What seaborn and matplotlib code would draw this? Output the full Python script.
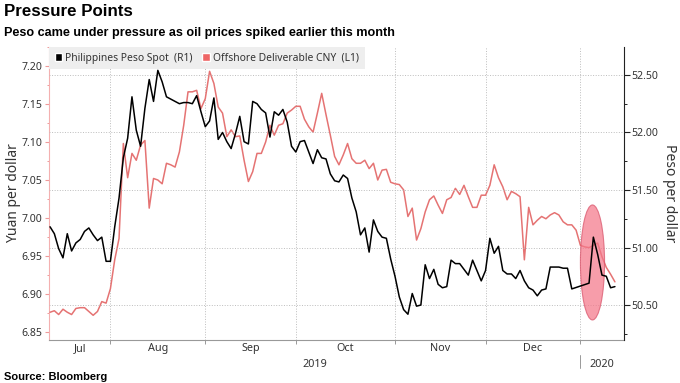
import matplotlib
matplotlib.use("Agg")
import matplotlib.pyplot as plt
import numpy as np
import pandas as pd
import seaborn as sns
from matplotlib.patches import Ellipse, Patch
from matplotlib.ticker import MultipleLocator, FormatStrFormatter

peso_color = "black"
cny_color = "#e57373"
text_color = "#333333"
grid_color = "#bdbdbd"
bold_family = ["Liberation Sans", "DejaVu Sans"]

# business days, Jul 12 2019 .. Jan 13 2020
start = "2019-07-12"
cny_dates = pd.bdate_range(start, "2020-01-13")
cny_values = [
    6.876, 6.878, 6.873, 6.880, 6.876, 6.873, 6.881, 6.882, 6.882, 6.877,
    6.872, 6.877, 6.890, 6.888, 6.907, 6.945, 6.973, 7.098, 7.053, 7.085,
    7.076, 7.096, 7.102, 7.013, 7.052, 7.050, 7.045, 7.072, 7.070, 7.067,
    7.087, 7.122, 7.166, 7.166, 7.168, 7.144, 7.157, 7.193, 7.177, 7.146,
    7.138, 7.107, 7.116, 7.107, 7.108, 7.076, 7.048, 7.061, 7.085, 7.085,
    7.100, 7.122, 7.109, 7.122, 7.124, 7.138, 7.142, 7.147, 7.147, 7.130,
    7.120, 7.113, 7.138, 7.164, 7.136, 7.109, 7.081, 7.070, 7.083, 7.098,
    7.078, 7.072, 7.072, 7.076, 7.065, 7.072, 7.050, 7.063, 7.064, 7.047,
    7.045, 7.044, 7.037, 7.002, 7.013, 6.971, 6.986, 7.008, 7.024, 7.029,
    7.017, 7.006, 7.024, 7.027, 7.039, 7.031, 7.043, 7.028, 7.014, 7.014,
    7.030, 7.030, 7.043, 7.070, 7.053, 7.041, 7.024, 7.035, 7.032, 7.028,
    6.945, 7.014, 6.991, 6.997, 7.002, 6.999, 7.004, 7.007, 7.004, 6.995,
    6.991, 6.991, 6.984, 6.964, 6.962, 6.961, 6.964, 6.967, 6.949, 6.935,
    6.926, 6.916,
]

# peso has no prints over the new-year holidays
peso_dates = cny_dates.drop(pd.to_datetime(["2019-12-31", "2020-01-01", "2020-01-02"]))
peso_values = [
    51.18, 51.12, 50.99, 50.91, 51.12, 50.97, 51.04, 51.07, 51.14, 51.17,
    51.11, 51.06, 51.09, 50.88, 50.88, 51.18, 51.43, 51.78, 51.95, 52.31,
    52.02, 51.88, 52.21, 52.46, 52.27, 52.54, 52.44, 52.31, 52.29, 52.27,
    52.25, 52.26, 52.26, 52.25, 52.32, 52.18, 52.05, 52.10, 52.30, 51.94,
    52.00, 51.92, 51.86, 51.99, 52.14, 51.92, 51.90, 52.27, 52.25, 52.20,
    52.17, 51.96, 52.18, 52.15, 52.20, 52.09, 51.88, 51.83, 51.92, 51.93,
    51.83, 51.73, 51.85, 51.78, 51.77, 51.64, 51.58, 51.57, 51.63, 51.60,
    51.43, 51.31, 51.11, 51.17, 50.96, 51.24, 51.14, 51.09, 51.08, 50.90,
    50.75, 50.57, 50.46, 50.42, 50.60, 50.49, 50.50, 50.85, 50.73, 50.81,
    50.68, 50.65, 50.66, 50.89, 50.86, 50.86, 50.81, 50.76, 50.89, 50.80,
    50.71, 50.80, 51.08, 50.95, 51.01, 50.80, 50.77, 50.77, 50.73, 50.80,
    50.71, 50.65, 50.63, 50.58, 50.63, 50.64, 50.83, 50.83, 50.83, 50.82,
    50.82, 50.64,
    50.69, 51.09, 50.94, 50.76, 50.75, 50.65, 50.66,
]

month_starts = ["2019-08-01", "2019-09-01", "2019-10-01", "2019-11-01", "2019-12-01", "2020-01-01"]
month_labels = ["Jul", "Aug", "Sep", "Oct", "Nov", "Dec"]
year_labels = ["2019", "2020"]
axis_end = "2020-01-15"


def bday_pos(dates):
    """Position on a business-day axis, counted from the first date."""
    d = pd.to_datetime(dates).values.astype("datetime64[D]")
    return np.busday_count(np.datetime64(start, "D"), d)


cny_df = pd.DataFrame({"x": bday_pos(cny_dates), "y": cny_values})
peso_df = pd.DataFrame({"x": bday_pos(peso_dates), "y": peso_values})
bounds = bday_pos(month_starts)
x0, x1 = -0.25, float(bday_pos([axis_end])[0]) + 0.1

sns.set_style("white")
plt.rcParams["font.family"] = ["Noto Sans", "DejaVu Sans"]

fig = plt.figure(figsize=(6.8, 3.83), dpi=100)
ax = fig.add_axes([0.072, 0.1123, 0.8456, 0.765])
ax2 = ax.twinx()

sns.lineplot(data=cny_df, x="x", y="y", ax=ax, color=cny_color, lw=1.1, zorder=3)
sns.lineplot(data=peso_df, x="x", y="y", ax=ax2, color=peso_color, lw=1.1, zorder=3)

# highlight the January spike
spike = peso_df[peso_df["x"] > bounds[-1]]
spike_x = spike.loc[spike["y"].idxmax(), "x"]
ax2.add_patch(Ellipse((spike_x - 0.2, 50.87), 5.6, 1.0, facecolor="#f4788a", alpha=0.72,
                      edgecolor="#d9536a", lw=0.8, zorder=2))

ax.set_xlim(x0, x1)
ax.set_ylim(6.8395, 7.225)
ax2.set_ylim(50.196, 52.743)

# left axis (CNY)
ax.yaxis.set_major_locator(MultipleLocator(0.05))
ax.yaxis.set_minor_locator(MultipleLocator(0.025))
ax.yaxis.set_major_formatter(FormatStrFormatter("%.2f"))
ax.tick_params(axis="y", which="major", colors="#f09a9a", labelcolor=text_color,
               length=3, width=0.8, labelsize=7.6, pad=1.5, left=True)
ax.tick_params(axis="y", which="minor", colors="#f09a9a", length=1.8, width=0.7, left=True)
ax.set_ylabel("Yuan per dollar", fontsize=10, color=text_color)
ax.yaxis.set_label_coords(-0.049, 0.5)

# right axis (peso)
ax2.yaxis.set_major_locator(MultipleLocator(0.5))
ax2.yaxis.set_minor_locator(MultipleLocator(0.25))
ax2.yaxis.set_major_formatter(FormatStrFormatter("%.2f"))
ax2.tick_params(axis="y", which="major", colors="#222222", labelcolor=text_color,
                length=4, width=0.8, labelsize=7.6, pad=1.5, right=True)
ax2.tick_params(axis="y", which="minor", colors="#222222", length=2.2, width=0.7, right=True)
ax2.set_ylabel("Peso per dollar", fontsize=10, color=text_color, rotation=270, va="bottom")
ax2.yaxis.set_label_coords(1.067, 0.5)

# x axis: month boundaries as ticks, names centred in each month
edges = np.concatenate([[x0], bounds])
ax.set_xticks(bounds)
ax.set_xticklabels([])
ax.set_xticks((edges[:-1] + edges[1:]) / 2, minor=True)
ax.set_xticklabels(month_labels, minor=True)
ax.tick_params(axis="x", which="major", length=3, width=0.7, colors="#999999", bottom=True)
ax.tick_params(axis="x", which="minor", length=0, labelsize=7.8, labelcolor=text_color, pad=2)
ax.set_xlabel("")
ax2.set_xlabel("")

xtr = ax.get_xaxis_transform()
ax.text((x0 + bounds[-1]) / 2, -0.083, year_labels[0], transform=xtr, ha="center", va="center",
        fontsize=7.8, color=text_color)
ax.text((bounds[-1] + x1) / 2, -0.083, year_labels[1], transform=xtr, ha="center", va="center",
        fontsize=7.8, color=text_color)
ax.plot([bounds[-1], bounds[-1]], [-0.05, -0.097], transform=xtr, clip_on=False,
        color="#999999", lw=0.7)

# grids: verticals at month starts, horizontals on the peso ticks
ax.grid(axis="x", which="major", ls=":", color=grid_color, lw=0.7)
ax.grid(axis="y", visible=False)
ax2.grid(axis="y", which="major", ls=":", color=grid_color, lw=0.7)
ax2.grid(axis="x", visible=False)

for s in ["top", "right"]:
    ax.spines[s].set_visible(False)
for s in ["top", "left", "bottom"]:
    ax2.spines[s].set_visible(False)
ax.spines["left"].set_color("#f4b0b0")
ax.spines["left"].set_linewidth(0.8)
ax.spines["bottom"].set_color("#999999")
ax.spines["bottom"].set_linewidth(0.8)
ax2.spines["right"].set_color("#222222")
ax2.spines["right"].set_linewidth(0.8)

handles = [Patch(facecolor=peso_color, label="Philippines Peso Spot  (R1)"),
           Patch(facecolor="#ee6666", label="Offshore Deliverable CNY  (L1)")]
leg = ax2.legend(handles=handles, loc="upper left", ncol=2, frameon=True, fontsize=7.4,
                 facecolor="#eeeeee", edgecolor="none", framealpha=1, fancybox=False,
                 handlelength=0.75, handleheight=0.75, handletextpad=0.3, columnspacing=0.9,
                 borderaxespad=0, borderpad=0.55)
for t in leg.get_texts():
    t.set_color(text_color)

fig.text(0.006, 1 - 4 / 383, "Pressure Points", fontsize=12.2, fontweight="bold", va="top",
         color="black", family=bold_family)
fig.text(0.006, 1 - 27 / 383, "Peso came under pressure as oil prices spiked earlier this month",
         fontsize=9.1, fontweight="bold", va="top", color="black", family=bold_family)
fig.text(0.006, 1 - 377 / 383, "Source: Bloomberg", fontsize=8.0, fontweight="bold", va="center",
         color="black", family=bold_family)

fig.savefig("out.png", dpi=100, facecolor="white")
